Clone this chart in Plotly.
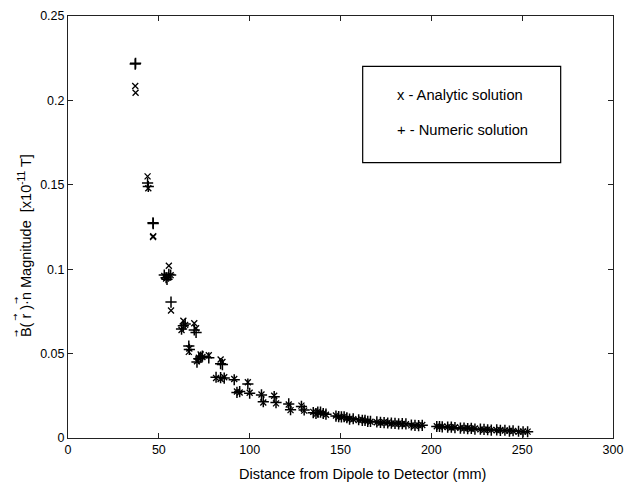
import plotly.graph_objects as go

# distance (mm), analytic and numeric field magnitude (x1e-11 T)
distance = [37.0, 37.2, 43.8, 44.2, 46.8, 46.9, 53.0, 54.0, 55.5, 56.5, 54.5, 56.7,
            62.5, 63.5, 64.5, 69.5, 70.5, 66.5, 66.8, 71.0, 72.0, 73.0, 74.0, 77.5,
            84.0, 85.0, 81.5, 86.0, 84.0, 91.5, 93.0, 94.5, 99.0, 100.0, 106.5, 107.5,
            113.5, 114.5, 121.5, 122.5, 128.5, 130.0, 135.0, 136.5,
            137.5, 139.0, 140.5, 142.0, 147.5, 149.0, 150.5, 152.0, 153.5, 155.0,
            157.0, 160.0, 162.0, 163.5, 165.0, 166.5, 170.0, 172.0, 174.0, 176.0,
            178.0, 180.0, 182.0, 184.0, 186.0, 189.0, 191.0, 193.0, 195.0, 203.0,
            204.5, 206.0, 209.0, 211.0, 213.0, 216.0, 218.0, 220.0, 222.0, 224.0,
            227.0, 229.0, 231.0, 233.0, 236.0, 238.0, 240.5, 243.0, 245.0, 248.0,
            250.5, 253.0]
analytic = [0.2085, 0.2045, 0.1550, 0.1480, 0.1190, 0.1195, 0.0960, 0.0945, 0.1020, 0.0965, 0.0950, 0.0755,
            0.0640, 0.0695, 0.0670, 0.0680, 0.0650, 0.0510, 0.0530, 0.0455, 0.0475, 0.0495, 0.0480, 0.0490,
            0.0465, 0.0450, 0.0355, 0.0360, 0.0350, 0.0350, 0.0275, 0.0270, 0.0330, 0.0268, 0.0258, 0.0210,
            0.0250, 0.0205, 0.0198, 0.0165, 0.0192, 0.0162, 0.0155, 0.0140,
            0.0156, 0.0150, 0.0147, 0.0138, 0.0133, 0.0124, 0.0122, 0.0128, 0.0116, 0.0114,
            0.0111, 0.0106, 0.0108, 0.0102, 0.0100, 0.0096, 0.0093, 0.0090, 0.0093, 0.0091,
            0.0086, 0.0085, 0.0086, 0.0083, 0.0082, 0.0075, 0.0073, 0.0075, 0.0077, 0.0070,
            0.0066, 0.0068, 0.0065, 0.0062, 0.0064, 0.0060, 0.0057, 0.0059, 0.0055, 0.0056,
            0.0051, 0.0049, 0.0051, 0.0048, 0.0046, 0.0047, 0.0044, 0.0043, 0.0041, 0.0037,
            0.0039, 0.0038]
numeric = [0.2215, 0.2220, 0.1510, 0.1490, 0.1275, 0.1270, 0.0965, 0.0950, 0.0970, 0.0965, 0.0940, 0.0805,
           0.0645, 0.0665, 0.0675, 0.0640, 0.0625, 0.0545, 0.0525, 0.0450, 0.0470, 0.0480, 0.0485, 0.0475,
           0.0440, 0.0435, 0.0360, 0.0355, 0.0358, 0.0345, 0.0270, 0.0275, 0.0320, 0.0265, 0.0255, 0.0215,
           0.0245, 0.0210, 0.0202, 0.0168, 0.0187, 0.0166, 0.0150, 0.0145,
           0.0153, 0.0153, 0.0145, 0.0141, 0.0130, 0.0127, 0.0125, 0.0126, 0.0120, 0.0112,
           0.0114, 0.0108, 0.0105, 0.0104, 0.0098, 0.0098, 0.0095, 0.0092, 0.0091, 0.0089,
           0.0088, 0.0087, 0.0084, 0.0085, 0.0084, 0.0077, 0.0075, 0.0073, 0.0075, 0.0068,
           0.0068, 0.0066, 0.0064, 0.0065, 0.0061, 0.0058, 0.0059, 0.0056, 0.0057, 0.0053,
           0.0052, 0.0051, 0.0049, 0.0047, 0.0048, 0.0045, 0.0046, 0.0041, 0.0043, 0.0040,
           0.0036, 0.0037]

x_ticks = [0, 50, 100, 150, 200, 250, 300]
x_tick_labels = ["0", "50", "100", "150", "200", "250", "300"]
y_ticks = [0, 0.05, 0.1, 0.15, 0.2, 0.25]
y_tick_labels = ["0", "0.05", "0.1", "0.15", "0.2", "0.25"]

FONT = "Liberation Sans, Arial, Helvetica, sans-serif"

fig = go.Figure()
fig.add_trace(go.Scatter(
    x=distance, y=analytic, mode="markers", name="Analytic solution",
    marker=dict(symbol="x-thin", size=6, color="black",
                line=dict(color="black", width=1.3)),
))
fig.add_trace(go.Scatter(
    x=distance, y=numeric, mode="markers", name="Numeric solution",
    marker=dict(symbol="cross-thin", size=8, color="black",
                line=dict(color="black", width=1.5)),
))

axis_common = dict(
    showgrid=False, zeroline=False, showline=True, linecolor="#222", linewidth=1,
    mirror="ticks", ticks="inside", ticklen=5, tickcolor="#222", tickwidth=1,
    tickfont=dict(family=FONT, size=12.5, color="black"),
)
fig.update_xaxes(range=[0, 300], tickvals=x_ticks, ticktext=x_tick_labels, **axis_common)
fig.update_yaxes(range=[0, 0.25], tickvals=y_ticks, ticktext=y_tick_labels, **axis_common)

# legend box drawn as text inside a rectangle
fig.add_shape(type="rect", xref="paper", yref="paper",
              x0=0.5407, x1=0.904, y0=0.6527, y1=0.8804,
              line=dict(color="black", width=1.2), fillcolor="white")
fig.add_annotation(xref="paper", yref="paper", x=0.600, y=0.8135, xanchor="left", yanchor="middle",
                   text="x - Analytic solution", showarrow=False,
                   font=dict(family=FONT, size=14.7, color="black"))
fig.add_annotation(xref="paper", yref="paper", x=0.600, y=0.7296, xanchor="left", yanchor="middle",
                   text="+ - Numeric solution", showarrow=False,
                   font=dict(family=FONT, size=14.7, color="black"))

# axis titles
fig.add_annotation(xref="paper", yref="paper", x=(362.5 - 68) / 545, y=-0.0862,
                   xanchor="center", yanchor="middle",
                   text="Distance from Dipole to Detector (mm)", showarrow=False,
                   font=dict(family=FONT, size=14.5, color="black"))
ytitle = "B( r )\u00b7n Magnitude  [x10<sup>-11</sup> T]"
fig.add_annotation(xref="paper", yref="paper", x=-0.079, y=0.2354, xanchor="center", yanchor="bottom",
                   text=ytitle, showarrow=False,
                   textangle=-90, font=dict(family=FONT, size=14.5, color="black"))
# vector arrows over B, r and n (pixel rows converted to paper fractions)
for ypx in [332.0, 315.5, 298.5]:
    fig.add_annotation(xref="paper", yref="paper", x=(15.5 - 68) / 545, y=(438 - ypx) / 429,
                       xanchor="center", yanchor="middle", text="\u2192", showarrow=False,
                       textangle=-90, font=dict(family="DejaVu Sans", size=8.5, color="black"))

fig.update_layout(
    width=641, height=489, showlegend=False,
    margin=dict(l=68, r=28, t=9, b=51),
    paper_bgcolor="white", plot_bgcolor="white",
)

fig.write_html("out.html")
